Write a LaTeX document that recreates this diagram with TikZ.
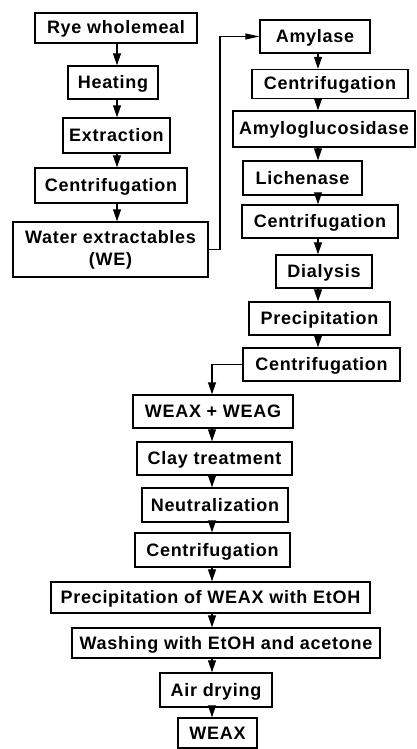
\documentclass[tikz,border=0pt]{standalone}
\usepackage{fontspec}
\setmainfont{Liberation Sans}[LetterSpace=4]
\usetikzlibrary{arrows.meta}
\begin{document}
\begin{tikzpicture}[x=1pt,y=-1pt,
  box/.style={draw, line width=1.4pt, inner sep=0pt, align=center,
    text height=14pt, text depth=2pt,
    font=\bfseries\fontsize{18}{22}\selectfont},
  arr/.style={line width=1.2pt, -{Triangle[width=8pt,length=12pt]}},
  harr/.style={line width=1.2pt, -{Triangle[width=6pt,length=14pt]}},
]
\useasboundingbox (0,0) rectangle (417,749);
\coordinate (axL) at (117,0);
\coordinate (axR) at (318,0);
\coordinate (axB) at (212,0);
\coordinate (jr) at (220,0);
% left column
\node[box, minimum width=162pt, minimum height=30pt] (rye) at (116,28) {Rye wholemeal};
\node[box, minimum width=90pt, minimum height=33pt] (heat) at (113,82.5) {Heating};
\node[box, minimum width=107pt, minimum height=35pt] (extr) at (116.5,135.5) {Extraction};
\node[box, minimum width=152pt, minimum height=35pt] (cent1) at (111,185.5) {Centrifugation};
\node[box, minimum width=195pt, minimum height=55pt, text height={}, text depth={}] (we) at (110.5,249.5) {Water extractables\\(WE)};
% right column
\node[box, minimum width=110pt, minimum height=33pt] (amyl) at (315,36.5) {Amylase};
\node[box, minimum width=156pt, minimum height=29pt] (cent2) at (330,84) {Centrifugation};
\node[box, minimum width=182pt, minimum height=36pt] (amylo) at (324,129) {Amyloglucosidase};
\node[box, minimum width=119pt, minimum height=34pt] (lich) at (302.5,178) {Lichenase};
\node[box, minimum width=156pt, minimum height=33pt] (cent3) at (320,221.5) {Centrifugation};
\node[box, minimum width=96pt, minimum height=33pt] (dial) at (324,271.5) {Dialysis};
\node[box, minimum width=141pt, minimum height=33pt] (prec1) at (319.5,318.5) {Precipitation};
\node[box, minimum width=157pt, minimum height=33pt] (cent4) at (321.5,364.5) {Centrifugation};
% bottom column
\node[box, minimum width=160pt, minimum height=33pt] (wx) at (213,411.5) {WEAX + WEAG};
\node[box, minimum width=155pt, minimum height=33pt] (clay) at (214.5,458.5) {Clay treatment};
\node[box, minimum width=146pt, minimum height=34pt] (neut) at (215,505) {Neutralization};
\node[box, minimum width=155pt, minimum height=34pt] (cent5) at (212.5,550) {Centrifugation};
\node[box, minimum width=319pt, minimum height=31pt] (precw) at (210.5,597.5) {Precipitation of WEAX with EtOH};
\node[box, minimum width=308pt, minimum height=30pt] (wash) at (226,643) {Washing with EtOH and acetone};
\node[box, minimum width=112pt, minimum height=34pt] (air) at (216,690) {Air drying};
\node[box, minimum width=79pt, minimum height=30pt] (weax) at (217.5,733) {WEAX};
% arrows left
\draw[arr] (rye.south -| axL) -- (heat.north -| axL);
\draw[arr] (heat.south -| axL) -- (extr.north -| axL);
\draw[arr] (extr.south -| axL) -- (cent1.north -| axL);
\draw[arr] (cent1.south -| axL) -- (we.north -| axL);
% link to right column
\draw[harr] (we.east) -- (we.east -| jr) -- (jr |- amyl.west) -- (amyl.west);
% arrows right
\draw[arr] (amyl.south -| axR) -- (cent2.north -| axR);
\draw[arr] (cent2.south -| axR) -- (amylo.north -| axR);
\draw[arr] (amylo.south -| axR) -- (lich.north -| axR);
\draw[arr] (lich.south -| axR) -- (cent3.north -| axR);
\draw[arr] (cent3.south -| axR) -- (dial.north -| axR);
\draw[arr] (dial.south -| axR) -- (prec1.north -| axR);
\draw[arr] (prec1.south -| axR) -- (cent4.north -| axR);
% link to bottom column
\draw[arr] (cent4.west) -- (cent4.west -| axB) -- (wx.north -| axB);
% arrows bottom
\draw[arr] (wx.south -| axB) -- (clay.north -| axB);
\draw[arr] (clay.south -| axB) -- (neut.north -| axB);
\draw[arr] (neut.south -| axB) -- (cent5.north -| axB);
\draw[arr] (cent5.south -| axB) -- (precw.north -| axB);
\draw[arr] (precw.south -| axB) -- (wash.north -| axB);
\draw[arr] (wash.south -| axB) -- (air.north -| axB);
\draw[arr] (air.south -| axB) -- (weax.north -| axB);
\end{tikzpicture}
\end{document}
